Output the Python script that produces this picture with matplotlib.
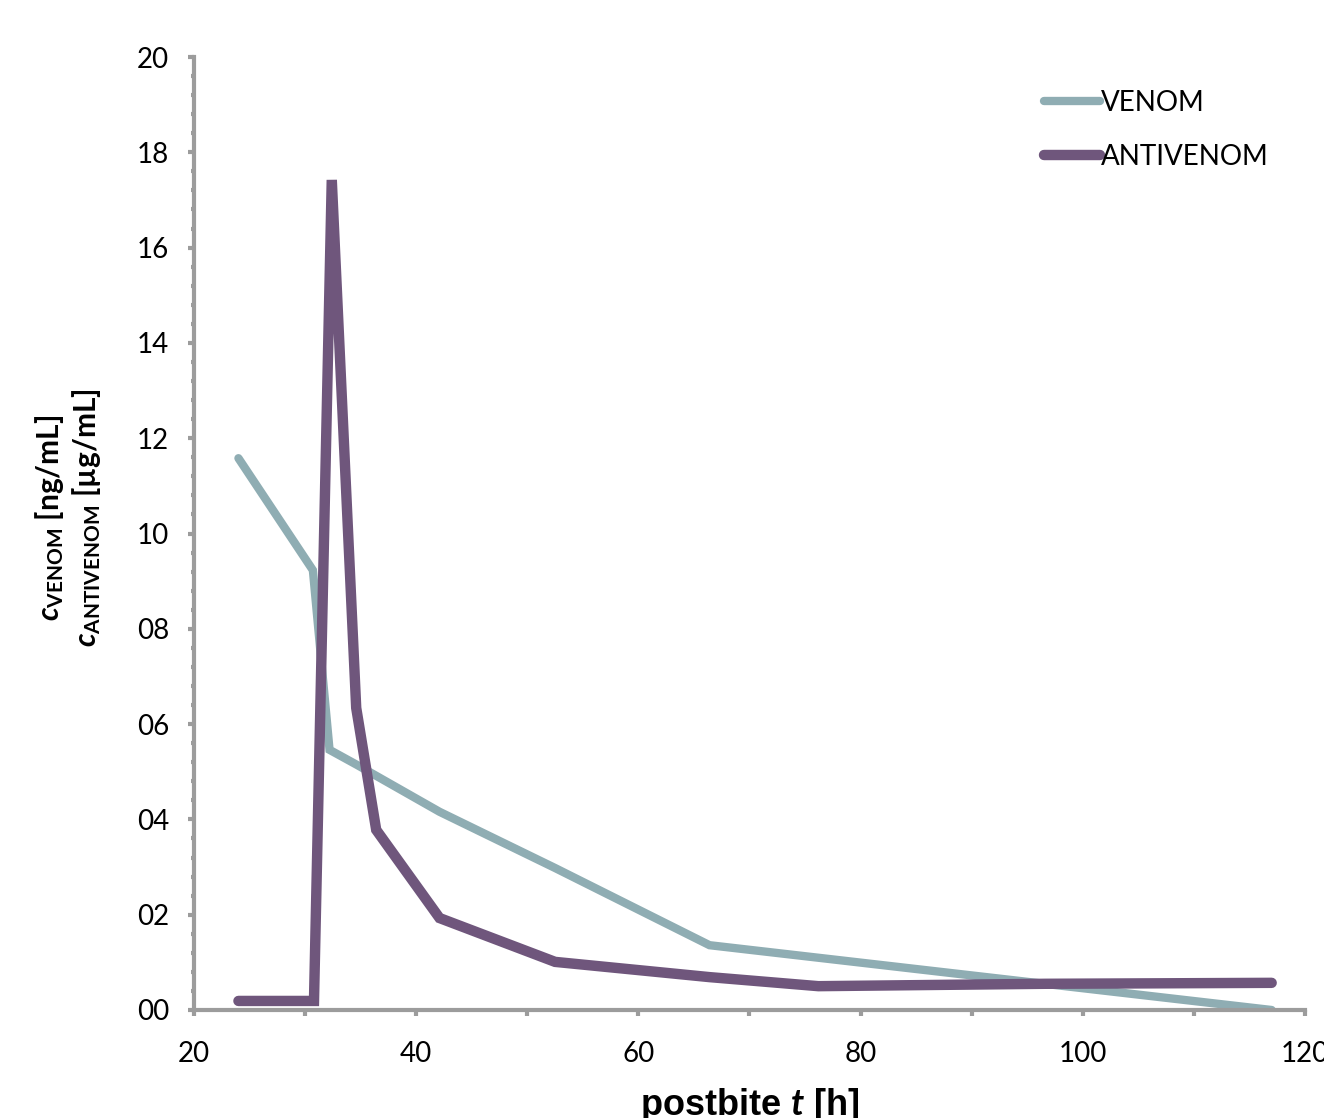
import matplotlib
matplotlib.use("Agg")
import matplotlib.pyplot as plt
from matplotlib.ticker import MultipleLocator, FixedLocator, FixedFormatter

# ---- data ----
venom_t = [24.0, 30.7, 32.2, 34.7, 42.1, 52.5, 66.4, 117.0]
venom_c = [11.58, 9.23, 5.46, 5.14, 4.16, 2.98, 1.36, 0.0]
anti_t = [24.0, 30.8, 32.4, 34.6, 36.4, 42.1, 52.5, 66.4, 76.2, 96.6, 117.0]
anti_c = [0.19, 0.19, 17.42, 6.34, 3.78, 1.93, 1.01, 0.69, 0.50, 0.55, 0.57]
series_labels = ["VENOM", "ANTIVENOM"]
x_ticks = [20, 40, 60, 80, 100, 120]
y_ticks = [0, 2, 4, 6, 8, 10, 12, 14, 16, 18, 20]
y_tick_labels = ["00", "02", "04", "06", "08", "10", "12", "14", "16", "18", "20"]

venom_color = "#8FADB3"
anti_color = "#6F567C"
axis_color = "#9C9C9C"

plt.rcParams['font.family'] = ['Lato', 'DejaVu Sans']
plt.rcParams['mathtext.fontset'] = 'custom'
plt.rcParams['mathtext.rm'] = 'Lato:bold'
plt.rcParams['mathtext.it'] = 'Lato:italic:bold'
plt.rcParams['mathtext.bf'] = 'Lato:bold'

fig = plt.figure(figsize=(13.24, 11.18), dpi=100)
ax = fig.add_axes([194/1324, 1 - 1010/1118, (1305-194)/1324, (1010-57)/1118])

ax.plot(venom_t, venom_c, color=venom_color, lw=6, solid_capstyle='round',
        solid_joinstyle='miter', label=series_labels[0])
ax.plot(anti_t, anti_c, color=anti_color, lw=7.5, solid_capstyle='round',
        solid_joinstyle='miter', label=series_labels[1])

ax.set_xlim(20, 120)
ax.set_ylim(0, 20)
for s in ['top', 'right']:
    ax.spines[s].set_visible(False)
for s in ['left', 'bottom']:
    ax.spines[s].set_color(axis_color)
    ax.spines[s].set_linewidth(3)
    ax.spines[s].set_capstyle('projecting')

ax.xaxis.set_major_locator(FixedLocator(x_ticks))
ax.xaxis.set_minor_locator(MultipleLocator(10))
ax.yaxis.set_major_locator(FixedLocator(y_ticks))
ax.yaxis.set_major_formatter(FixedFormatter(y_tick_labels))
ax.yaxis.set_minor_locator(MultipleLocator(0.4))
ax.tick_params(which='both', direction='out', color=axis_color, width=3, length=4)
ax.tick_params(axis='y', which='minor', length=2.5)
ax.tick_params(which='major', labelsize=20, pad=14)
ax.tick_params(axis='x', which='major', pad=18)

ax.set_xlabel(r"postbite $\mathit{t}$ [h]", fontsize=26, fontweight='bold',
              family=['Liberation Sans'], labelpad=14)

fig.text(50/1324, 1 - 518/1118, r"$\mathit{c}_{\mathrm{VENOM}}$ [ng/mL]", rotation=90,
         ha='center', va='center', fontsize=21.5, fontweight='bold')
fig.text(87/1324, 1 - 518/1118, r"$\mathit{c}_{\mathrm{ANTIVENOM}}$ [µg/mL]", rotation=90,
         ha='center', va='center', fontsize=21.5, fontweight='bold')

leg = ax.legend(loc='upper left', bbox_to_anchor=(1044/1324, 1 - 90/1118),
                bbox_transform=fig.transFigure, frameon=False, fontsize=20,
                handlelength=2.0, handletextpad=0.05, labelspacing=1.0,
                borderaxespad=0, borderpad=0)

fig.savefig("out.png", dpi=100)
